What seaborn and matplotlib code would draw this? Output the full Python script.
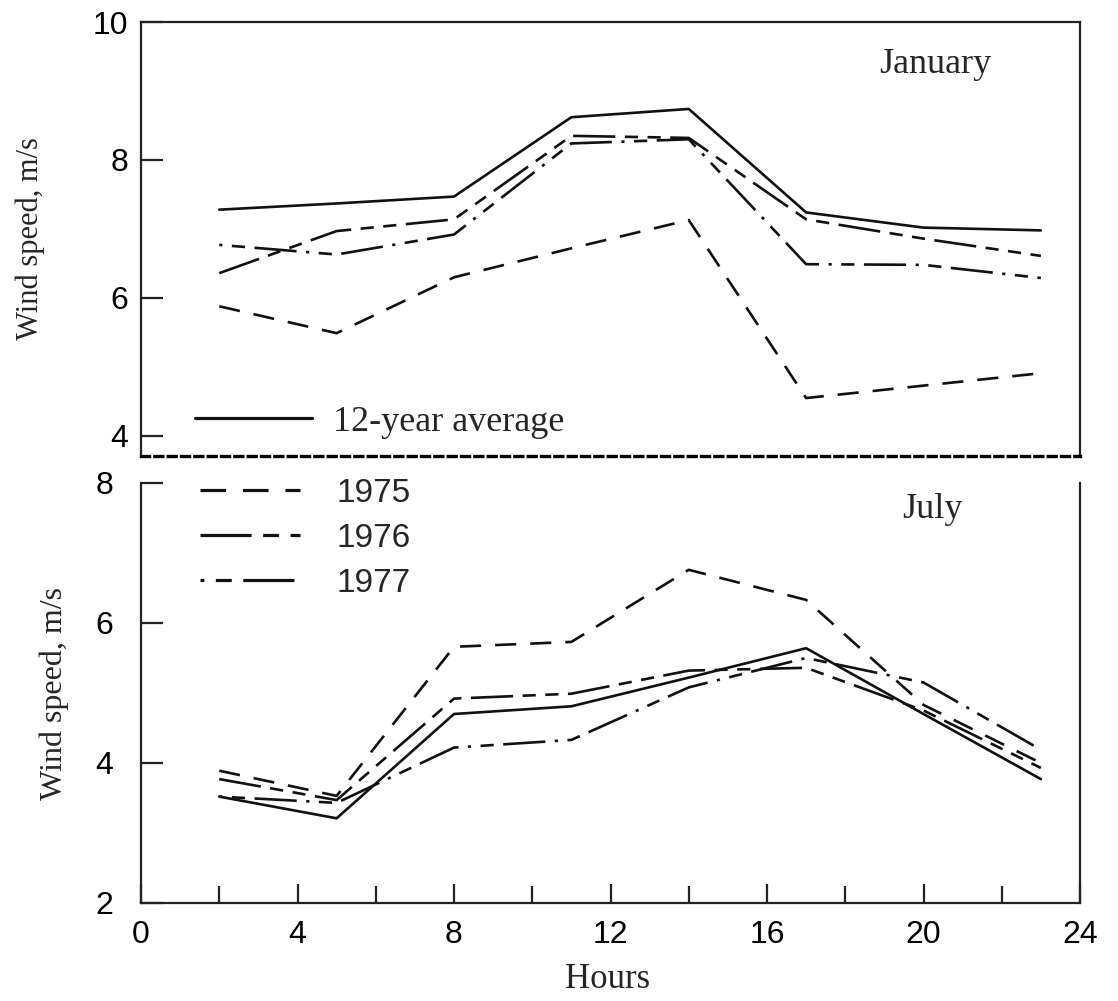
import numpy as np
import pandas as pd
import matplotlib
matplotlib.use("Agg")
import matplotlib.pyplot as plt
import seaborn as sns
from matplotlib.lines import Line2D

# ---------------- data ----------------
hours = [2, 5, 8, 11, 14, 17, 20, 23]
series_names = ["12-year average", "1975", "1976", "1977"]

jan_avg = [7.28, 7.37, 7.47, 8.62, 8.74, 7.24, 7.02, 6.98]
jan_1975 = [5.88, 5.49, 6.30, 6.72, 7.13, 4.55, 4.73, 4.91]
jan_1976 = [6.36, 6.97, 7.14, 8.35, 8.32, 7.14, 6.86, 6.61]
jan_1977 = [6.77, 6.63, 6.92, 8.24, 8.30, 6.49, 6.48, 6.29]

jul_avg = [3.52, 3.21, 4.70, 4.81, 5.22, 5.64, 4.70, 3.77]
jul_1975 = [3.89, 3.53, 5.66, 5.73, 6.76, 6.33, 4.83, 4.00]
jul_1976 = [3.77, 3.47, 4.92, 4.99, 5.32, 5.36, 4.75, 3.93]
jul_1977 = [3.52, 3.43, 4.22, 4.33, 5.08, 5.50, 5.15, 4.19]

x_major = [0, 4, 8, 12, 16, 20, 24]
x_minor = [2, 6, 10, 14, 18, 22]
jan_yticks = [4, 6, 8, 10]
jul_yticks = [2, 4, 6, 8]

month_labels = ["January", "July"]
ylabel_text = "Wind speed, m/s"
xlabel_text = "Hours"


def long_frame(values_list):
    frames = []
    for name, vals in zip(series_names, values_list):
        frames.append(pd.DataFrame({"Hours": hours, "Wind": vals, "series": name}))
    return pd.concat(frames, ignore_index=True)


df_jan = long_frame([jan_avg, jan_1975, jan_1976, jan_1977])
df_jul = long_frame([jul_avg, jul_1975, jul_1976, jul_1977])

# ---------------- style ----------------
sns.set_theme(style="ticks")
plt.rcParams["font.family"] = ["Liberation Sans", "DejaVu Sans"]

SERIF = ["Liberation Serif", "DejaVu Serif"]
LW = 1.9
INK = "#111111"
dash_map = {
    "12-year average": "",
    "1975": (8, 5.3),
    "1976": (16, 3.6, 5, 3.6, 5, 3.6),
    "1977": (1.2, 3.6, 5, 3.6, 16, 3.6),
}
palette = {n: INK for n in series_names}

fig = plt.figure(figsize=(11.18, 10.01), dpi=100)
W, H = 1118, 1001
ax_top = fig.add_axes([141 / W, 1 - 456 / H, 939 / W, 434 / H])
ax_bot = fig.add_axes([141 / W, 1 - 903 / H, 939 / W, 420 / H])

for ax, df in ((ax_top, df_jan), (ax_bot, df_jul)):
    sns.lineplot(data=df, x="Hours", y="Wind", hue="series", style="series",
                 palette=palette, dashes=dash_map, linewidth=LW, ax=ax,
                 legend=False, sort=False)
    ax.set_xlim(0, 24)
    for s in ax.spines.values():
        s.set_linewidth(1.6)
        s.set_color("#222222")
    ax.tick_params(axis="y", direction="in", length=16, width=1.6,
                   labelsize=23, colors="#222222", labelcolor="black")

# top panel
ax_top.set_ylim(3.71, 10)
ax_top.set_yticks(jan_yticks)
ax_top.set_yticklabels([str(v) for v in jan_yticks])
ax_top.tick_params(axis="y", pad=9)
ax_top.tick_params(axis="x", bottom=False, labelbottom=False)
ax_top.set_xlabel("")
sp = ax_top.spines["bottom"]
sp.set_color("black")
sp.set_linewidth(2.4)
sp.set_linestyle((0, (2.4, 1.6)))
ax_top.set_ylabel(ylabel_text, fontsize=22, family=SERIF)
ax_top.yaxis.set_label_coords(-0.118, 0.5)
ax_top.yaxis.label.set_va("center")
ax_top.text(0.8456, 0.901, month_labels[0], transform=ax_top.transAxes,
            ha="center", va="center", fontsize=26, family=SERIF)

h_avg = Line2D([], [], color=INK, lw=LW + 0.4, linestyle="-")
ax_top.legend([h_avg], [series_names[0]], loc="center left",
              bbox_to_anchor=(0.0575, 0.078), frameon=False,
              borderpad=0, borderaxespad=0, handlelength=3.25,
              handletextpad=0.58, prop={"family": SERIF, "size": 26})

# bottom panel
ax_bot.set_ylim(2, 8)
ax_bot.set_yticks(jul_yticks)
ax_bot.set_yticklabels([str(v) for v in jul_yticks])
ax_bot.tick_params(axis="y", pad=20)
ax_bot.spines["top"].set_visible(False)
ax_bot.set_xticks(x_major)
ax_bot.set_xticklabels([str(v) for v in x_major])
ax_bot.set_xticks(x_minor, minor=True)
ax_bot.tick_params(axis="x", which="major", direction="in", length=14, width=1.6,
                   labelsize=23, pad=12, colors="#222222", labelcolor="black")
ax_bot.tick_params(axis="x", which="minor", direction="in", length=12, width=1.6,
                   colors="#222222")
ax_bot.set_xlabel(xlabel_text, fontsize=25, family=SERIF)
ax_bot.xaxis.set_label_coords(0.497, -0.143)
ax_bot.set_ylabel(ylabel_text, fontsize=23, family=SERIF)
ax_bot.yaxis.set_label_coords(-0.092, 0.5)
ax_bot.yaxis.label.set_va("center")
ax_bot.text(0.843, 0.936, month_labels[1], transform=ax_bot.transAxes,
            ha="center", va="center", fontsize=26, family=SERIF)

handles = [Line2D([], [], color=INK, lw=LW + 0.4, linestyle=(0, dash_map[n]))
           for n in series_names[1:]]
ax_bot.legend(handles, series_names[1:], loc="center left",
              bbox_to_anchor=(0.0628, 0.869), frameon=False,
              borderpad=0, borderaxespad=0, handlelength=3.0,
              handletextpad=1.1, labelspacing=0.42, fontsize=24)

fig.savefig("out.png", dpi=100, facecolor="white")
